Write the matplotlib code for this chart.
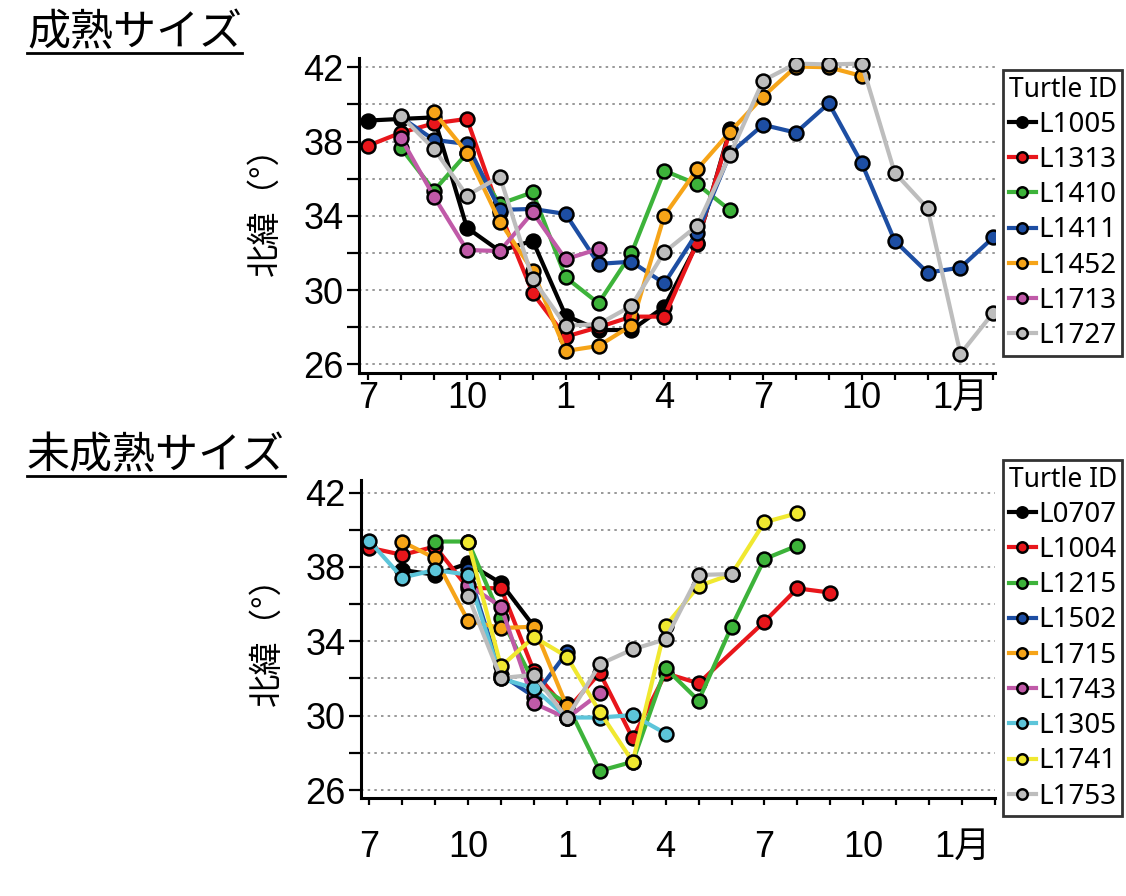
import matplotlib
matplotlib.use("Agg")
import matplotlib.pyplot as plt
from matplotlib.lines import Line2D

# month index 0 = July, 18 = January two years later
months = list(range(20))
month_ticks = [0, 3, 6, 9, 12, 15, 18]
month_labels = ['7', '10', '1', '4', '7', '10', '1月']

# --- mature size (成熟サイズ) ---
L1005 = [39.13, 39.22, 39.3, 33.36, 32.1, 32.66, 28.63, 27.85, 27.85, 29.1, 32.5, 38.7]
L1313 = [37.78, 38.48, 38.98, 39.22, 34.2, 29.83, 27.49, 28.0, 28.57, 28.57, 32.56, 38.6]
L1410 = [None, 37.64, 35.36, 37.37, 34.64, 35.27, 30.69, 29.29, 31.98, 36.43, 35.7, 34.3]
L1411 = [None, 39.3, 38.09, 37.87, 34.32, 34.37, 34.1, 31.41, 31.53, 30.36, 33.1, 37.37,
         38.9, 38.48, 40.06, 36.83, 32.66, 30.94, 31.21, 32.84]
L1452 = [None, None, 39.58, 37.4, 33.69, 31.05, 26.72, 26.99, 28.09, 34.01, 36.51, 38.53,
         40.42, 42.04, 42.0, 41.53]
L1713 = [None, 38.18, 35.03, 32.16, 32.1, 34.19, 31.66, 32.22]
L1727 = [None, 39.38, 37.6, 35.09, 36.11, 30.6, 28.09, 28.16, 29.15, 32.04, 33.47, 37.3,
         41.28, 42.2, 42.15, 42.2, 36.33, 34.41, 26.56, 28.79]

# --- immature size (未成熟サイズ) ---
L0707 = [None, 37.84, 37.58, 38.2, 37.13, 34.8]
L1004 = [39.04, 38.65, 39.1, 36.86, 36.86, 32.4, 30.3, 32.3, 28.78, 32.28, 31.74, None,
         35.06, 36.85, 36.62]
L1215 = [None, None, 39.37, 39.37, 35.26, 31.77, 30.65, 27.03, 27.52, 32.55, 30.81, 34.79,
         38.43, 39.15]
L1502 = [None, None, None, 37.84, 32.2, 31.03, 33.4]
L1715 = [None, 39.36, 38.47, 35.1, 34.71, 34.79, 30.5]
L1743 = [None, None, None, 37.04, 35.87, 30.67, 29.86, 31.2]
L1305 = [39.4, 37.43, 37.84, 37.58, 32.0, 31.48, 29.9, 29.9, 30.03, 29.04]
L1741 = [None, None, None, 39.37, 32.65, 34.23, 33.18, 30.2, 27.52, 34.84, 36.98, 37.6,
         40.41, 40.89]
L1753 = [None, None, None, 36.45, 32.02, 32.2, 29.87, 32.77, 33.57, 34.11, 37.57, 37.62]

BLACK, RED, GREEN, BLUE = '#000000', '#e8161b', '#3db33a', '#1d4ea3'
ORANGE, MAGENTA, GREY = '#f6a418', '#c05aa8', '#bdbdbd'
CYAN, YELLOW = '#5cc5da', '#f0e830'

mature = [('L1005', L1005, BLACK), ('L1313', L1313, RED), ('L1410', L1410, GREEN),
          ('L1411', L1411, BLUE), ('L1452', L1452, ORANGE), ('L1713', L1713, MAGENTA),
          ('L1727', L1727, GREY)]
immature = [('L0707', L0707, BLACK), ('L1004', L1004, RED), ('L1215', L1215, GREEN),
            ('L1502', L1502, BLUE), ('L1715', L1715, ORANGE), ('L1743', L1743, MAGENTA),
            ('L1305', L1305, CYAN), ('L1741', L1741, YELLOW), ('L1753', L1753, GREY)]

NUM_FONT = ['Liberation Sans', 'Noto Sans CJK JP']
JP_FONT = ['Noto Sans CJK JP', 'DejaVu Sans']
LEG_FONT = ['Noto Sans', 'DejaVu Sans']

fig = plt.figure(figsize=(11.26, 8.96), dpi=100)
ax1 = fig.add_axes([359 / 1126, 1 - 372.7 / 896, (995 - 359) / 1126, (372.7 - 58) / 896])
ax2 = fig.add_axes([360.7 / 1126, 1 - 798 / 896, (995 - 360.7) / 1126, (798 - 480) / 896])


def draw(ax, series, ylim, xlim, label_pad, ylab_y):
    for name, vals, col in series:
        xs = [m for m, v in zip(months, vals) if v is not None]
        ys = [v for v in vals if v is not None]
        ax.plot(xs, ys, '-o', color=col, lw=3.0, ms=10, mfc=col, mec='black', mew=1.8,
                label=name, solid_joinstyle='round')
    ax.set_xlim(*xlim)
    ax.set_ylim(*ylim)
    ax.set_yticks(range(26, 43, 2))
    ax.set_yticklabels([str(t) if t % 4 == 2 else '' for t in range(26, 43, 2)],
                       family=NUM_FONT, fontsize=26)
    ax.set_xticks(months)
    ax.set_xticklabels([month_labels[month_ticks.index(m)] if m in month_ticks else ''
                        for m in months], family=NUM_FONT, fontsize=26)
    ax.tick_params(axis='y', length=9, width=1.6, pad=2)
    ax.tick_params(axis='x', length=5, width=1.6, pad=label_pad)
    for s in ['top', 'right']:
        ax.spines[s].set_visible(False)
    for s in ['left', 'bottom']:
        ax.spines[s].set_linewidth(2.2)
    for y in range(26, 43, 2):
        ax.axhline(y, color='#888888', lw=1.2, ls=(0, (1.5, 2.5)), zorder=0)
    ax.set_ylabel('北緯（°）', family=JP_FONT, fontsize=24)
    ax.yaxis.set_label_coords(-76 / 636, ylab_y)


draw(ax1, mature, (25.55, 42.5), (-0.28, 19.05), 1, 0.54)
draw(ax2, immature, (25.57, 42.68), (-0.26, 19.0), 18, 0.52)

leg_kw = dict(loc='upper left', frameon=True, fancybox=False, edgecolor='black',
              prop={'family': LEG_FONT, 'size': 20}, title='Turtle ID',
              title_fontproperties={'family': LEG_FONT, 'size': 19},
              handlelength=1.0, handletextpad=0.08, borderpad=0.2, borderaxespad=0,
              labelspacing=0.26, markerscale=0.75, handleheight=0.7)
lg1 = ax1.legend(bbox_to_anchor=(1003 / 1126, 1 - 70 / 896),
                 bbox_transform=fig.transFigure, **leg_kw)
lg2 = ax2.legend(bbox_to_anchor=(1003 / 1126, 1 - 460 / 896),
                 bbox_transform=fig.transFigure, **leg_kw)
for lg in (lg1, lg2):
    lg.get_frame().set_linewidth(2)

# section titles with underline
t1 = fig.text(27 / 1126, 1 - 55 / 896, '成熟サイズ', family=JP_FONT, fontsize=31,
              va='bottom', ha='left')
t2 = fig.text(27 / 1126, 1 - 478 / 896, '未成熟サイズ', family=JP_FONT, fontsize=31,
              va='bottom', ha='left')
fig.canvas.draw()
r = fig.canvas.get_renderer()
for t in (t1, t2):
    bb = t.get_window_extent(r).transformed(fig.transFigure.inverted())
    fig.add_artist(Line2D([bb.x0, bb.x1], [bb.y0 + 0.002, bb.y0 + 0.002],
                          transform=fig.transFigure, color='black', lw=2))

fig.savefig('out.png', dpi=100)
